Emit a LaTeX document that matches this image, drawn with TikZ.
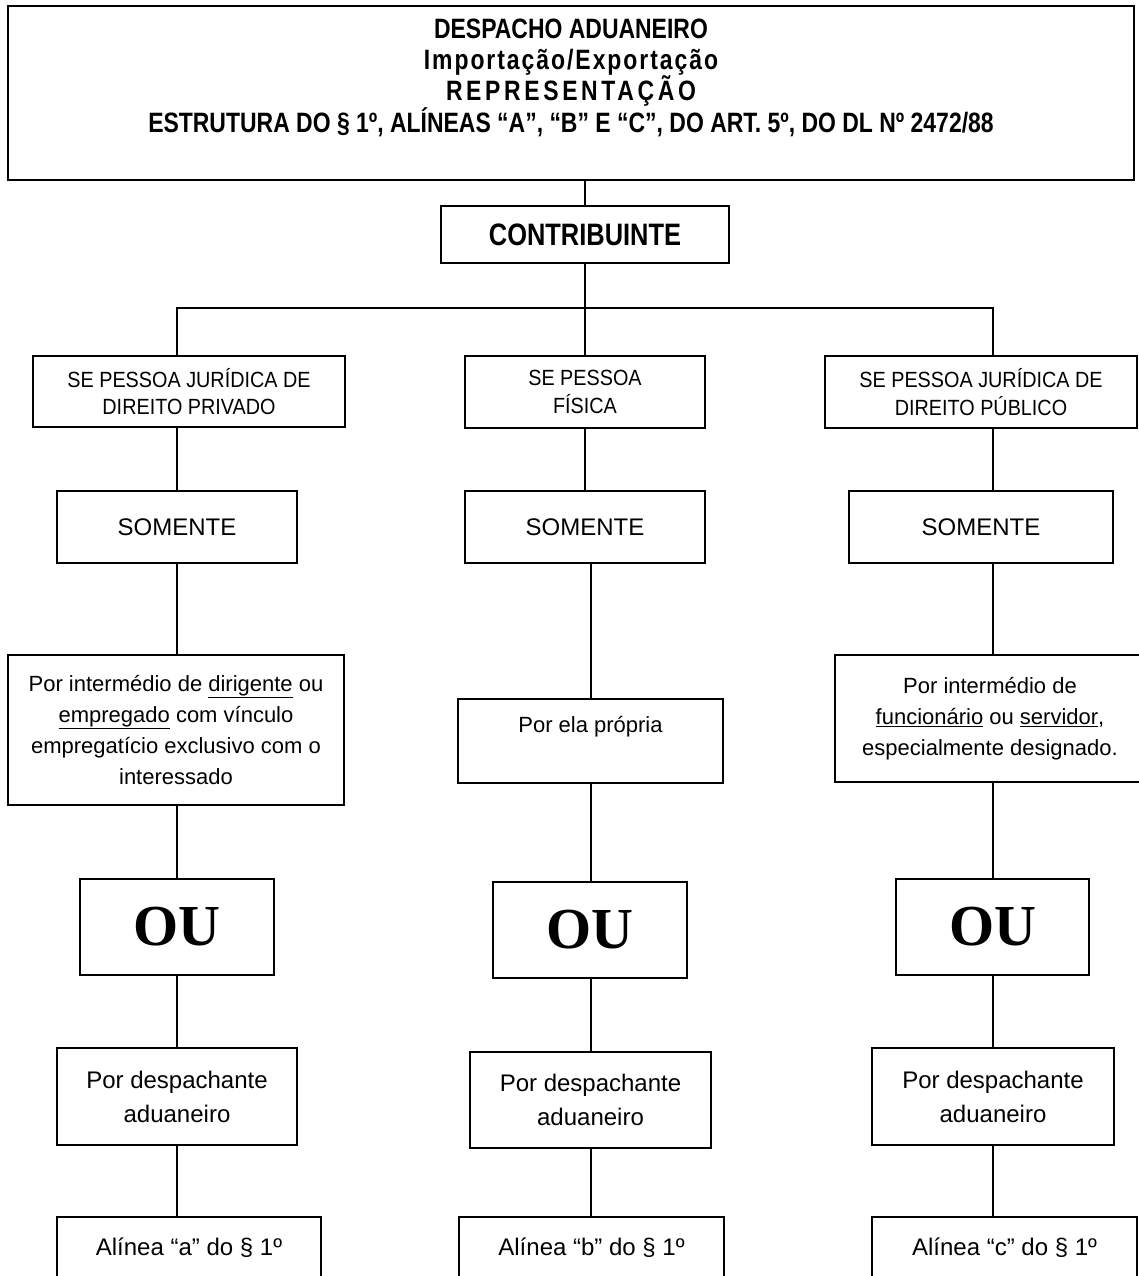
\documentclass[tikz,border=0pt]{standalone}
\usepackage{fontspec}
\setmainfont{Liberation Sans}
\newfontfamily\oufont{Liberation Serif}
\newfontfamily\narrowfont[FakeStretch=0.82]{Liberation Sans}
\newfontfamily\semifont[FakeStretch=0.9]{Liberation Sans}
\begin{document}
\begin{tikzpicture}[x=1pt,y=-1pt,
  box/.style={draw, line width=1.8pt, align=center, inner sep=0pt},
  conn/.style={line width=1.4pt},
  small/.style={font=\semifont\fontsize{22}{27.5}\selectfont},
  body/.style={font=\fontsize{22}{31}\selectfont},
  big/.style={font=\fontsize{24}{34}\selectfont},
  oubox/.style={box, font=\oufont\bfseries\fontsize{58}{60}\selectfont},
  plain/.style={align=center, inner sep=0pt}
]
\useasboundingbox (0,0) rectangle (1139,1276);
\clip (0,0) rectangle (1139,1276);

% connector columns
\coordinate (cl) at (177,0);
\coordinate (cm) at (585,0);
\coordinate (cml) at (591,0);
\coordinate (cr) at (993,0);

% title
\node[box, minimum width=1126pt, minimum height=174pt] (title) at (571,93) {};
\node[plain, font=\narrowfont\bfseries\fontsize{28}{30.5}\selectfont] (titletext) at (571,78)
 {DESPACHO ADUANEIRO\\
  {\addfontfeature{LetterSpace=7}Importação/Exportação}\\
  {\addfontfeature{LetterSpace=13}REPRESENTAÇÃO}\\
  ESTRUTURA DO § 1º, ALÍNEAS “A”, “B” E “C”, DO ART. 5º, DO DL Nº 2472/88};

\node[box, minimum width=288pt, minimum height=57pt, font=\narrowfont\bfseries\fontsize{31}{34}\selectfont] (contrib) at (585,234.5) {CONTRIBUINTE};
\coordinate (bar) at (585,308);

% row 1
\node[box, small, minimum width=312pt, minimum height=71pt] (L1) at (189,391.5) {SE PESSOA JURÍDICA DE\\DIREITO PRIVADO};
\node[box, small, minimum width=240pt, minimum height=72pt] (M1) at (585,392) {SE PESSOA\\FÍSICA};
\node[box, small, minimum width=312pt, minimum height=72pt] (R1) at (981,392) {SE PESSOA JURÍDICA DE\\DIREITO PÚBLICO};

% row 2
\node[box, big, minimum width=240pt, minimum height=72pt] (L2) at (177,527) {SOMENTE};
\node[box, big, minimum width=240pt, minimum height=72pt] (M2) at (585,527) {SOMENTE};
\node[box, big, minimum width=264pt, minimum height=72pt] (R2) at (981,527) {SOMENTE};

% row 3
\node[box, body, minimum width=336pt, minimum height=150pt] (L3) at (176,730)
 {Por intermédio de \underline{dirigente} ou\\\underline{empregado} com vínculo\\empregatício exclusivo com o\\interessado};
\node[box, minimum width=265pt, minimum height=84pt] (M3) at (590.5,741) {};
\node[plain, body] (M3text) at (590.5,727) {Por ela própria};
\node[box, body, minimum width=310pt, minimum height=127pt] (R3) at (990,718.5)
 {Por intermédio de\\\underline{funcionário} ou \underline{servidor},\\especialmente designado.};

% row 4
\node[oubox, minimum width=194pt, minimum height=96pt] (L4) at (177,927) {OU};
\node[oubox, minimum width=194pt, minimum height=96pt] (M4) at (590,930) {OU};
\node[oubox, minimum width=193pt, minimum height=96pt] (R4) at (992.5,927) {OU};

% row 5
\node[box, big, minimum width=240pt, minimum height=97pt] (L5) at (177,1096.5) {Por despachante\\aduaneiro};
\node[box, big, minimum width=241pt, minimum height=96pt] (M5) at (590.5,1100) {Por despachante\\aduaneiro};
\node[box, big, minimum width=242pt, minimum height=97pt] (R5) at (993,1096.5) {Por despachante\\aduaneiro};

% row 6
\node[box, big, minimum width=264pt, minimum height=62pt] (L6) at (189,1248) {Alínea “a” do § 1º};
\node[box, big, minimum width=265pt, minimum height=62pt] (M6) at (591.5,1248) {Alínea “b” do § 1º};
\node[box, big, minimum width=265pt, minimum height=62pt] (R6) at (1004.5,1248) {Alínea “c” do § 1º};

% connectors
\draw[conn] (title.south -| cm) -- (contrib.north);
\draw[conn] (contrib.south) -- (bar);
\draw[conn] (L1.north -| cl) -- (cl |- bar) -- (cr |- bar) -- (R1.north -| cr);
\draw[conn] (bar) -- (M1.north);

\draw[conn] (L1.south -| cl) -- (L2.north -| cl);
\draw[conn] (L2.south -| cl) -- (L3.north -| cl);
\draw[conn] (L3.south -| cl) -- (L4.north -| cl);
\draw[conn] (L4.south -| cl) -- (L5.north -| cl);
\draw[conn] (L5.south -| cl) -- (L6.north -| cl);

\draw[conn] (M1.south -| cm) -- (M2.north -| cm);
\draw[conn] (M2.south -| cml) -- (M3.north -| cml);
\draw[conn] (M3.south -| cml) -- (M4.north -| cml);
\draw[conn] (M4.south -| cml) -- (M5.north -| cml);
\draw[conn] (M5.south -| cml) -- (M6.north -| cml);

\draw[conn] (R1.south -| cr) -- (R2.north -| cr);
\draw[conn] (R2.south -| cr) -- (R3.north -| cr);
\draw[conn] (R3.south -| cr) -- (R4.north -| cr);
\draw[conn] (R4.south -| cr) -- (R5.north -| cr);
\draw[conn] (R5.south -| cr) -- (R6.north -| cr);
\end{tikzpicture}
\end{document}
